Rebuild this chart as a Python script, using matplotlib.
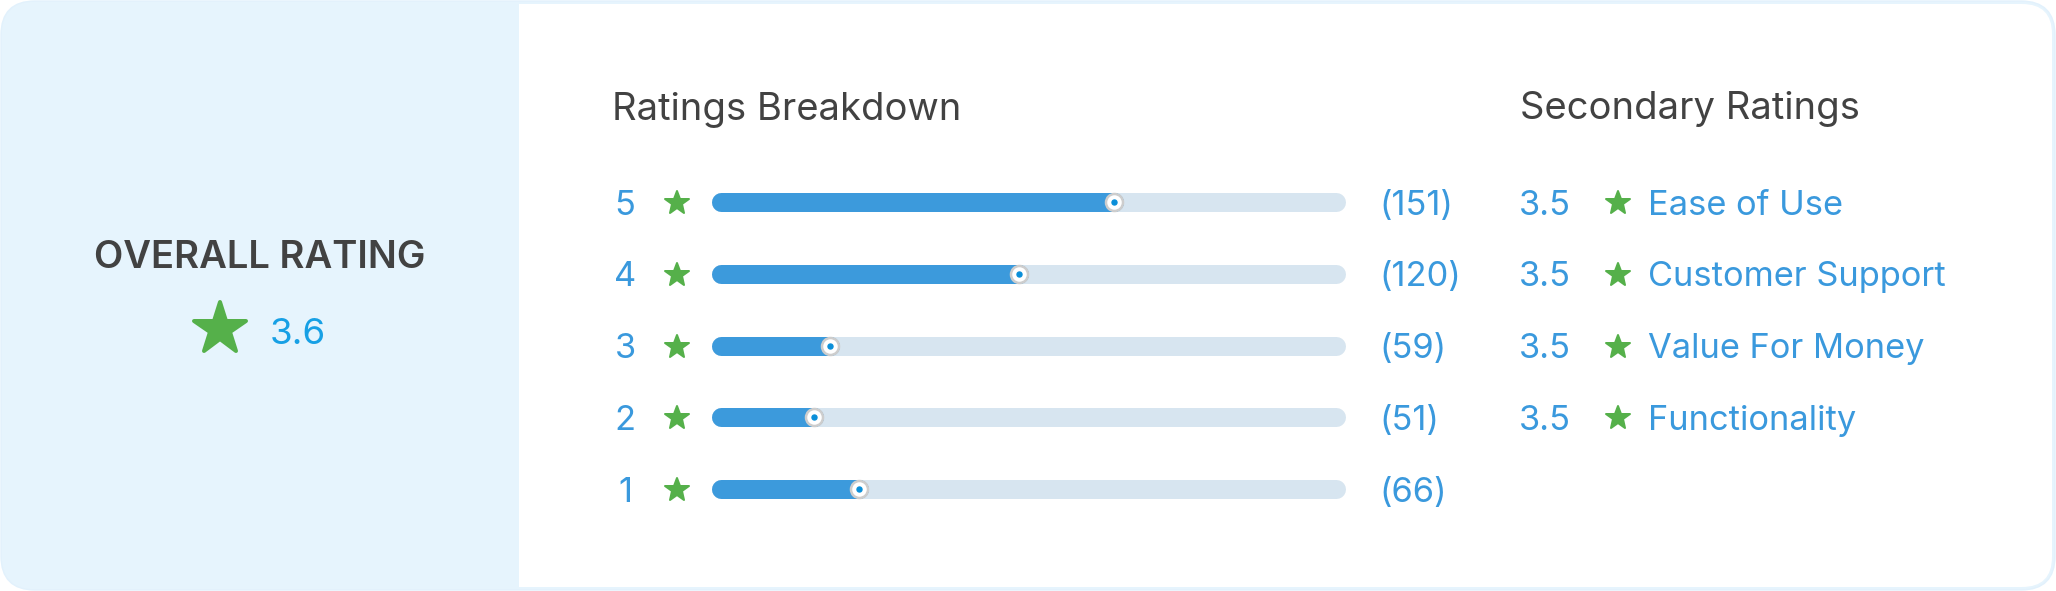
import matplotlib.pyplot as plt
from matplotlib.patches import FancyBboxPatch, Rectangle
from matplotlib.markers import MarkerStyle

# Data read from the card
overall_rating = 3.6
star_levels = [5, 4, 3, 2, 1]
review_counts = [151, 120, 59, 51, 66]
fill_share = [0.639, 0.485, 0.178, 0.152, 0.225]  # fill length of each bar
secondary_names = ["Ease of Use", "Customer Support", "Value For Money", "Functionality"]
secondary_scores = [3.5, 3.5, 3.5, 3.5]

W, H, DPI = 2056, 591, 100
FONT = ["Inter", "DejaVu Sans"]
DARK = "#424242"
BLUE = "#3a99dd"
BRIGHT = "#17a0e5"
GREEN = "#55b04a"
PANEL = "#e6f4fd"
TRACK = "#d7e5f0"
FILL = "#3c9adc"

ROW_TOP, ROW_STEP = 202, 71.8
PX = 72 / DPI  # points per pixel
CAP = 0.727     # Inter cap height / em
ROW_FS = 24.8


def px2pt(px):
    return px * PX


def half_cap(fs):
    return CAP * fs / PX / 2


fig = plt.figure(figsize=(W / DPI, H / DPI), dpi=DPI)
fig.patch.set_alpha(0)
ax = fig.add_axes([0, 0, 1, 1])
ax.set_xlim(0, W)
ax.set_ylim(H, 0)
ax.axis("off")

# card background
ax.add_patch(FancyBboxPatch((1, 1), W - 2, H - 2, boxstyle="round,pad=0,rounding_size=34",
                            fc=PANEL, ec="#e2f1fc", lw=1))
ax.add_patch(FancyBboxPatch((519, 4), W - 4 - 519, H - 8, boxstyle="round,pad=0,rounding_size=30",
                            fc="white", ec="none"))
ax.add_patch(Rectangle((519, 4), 60, H - 8, fc="white", ec="none"))

star = MarkerStyle("*", joinstyle="round")

# overall block
ax.text(260, 268, "OVERALL RATING", fontsize=27.5, fontweight="semibold", color=DARK,
        ha="center", va="baseline", family=FONT)
ax.plot([220], [328.5], marker=star, ms=px2pt(54), color=GREEN, mec=GREEN, mew=px2pt(4))
ax.text(270, 331 + half_cap(26.5), f"{overall_rating:.1f}", fontsize=26.5, color=BRIGHT,
        ha="left", va="baseline", family=FONT)

# headings
ax.text(612, 120, "Ratings Breakdown", fontsize=27.5, color=DARK, ha="left", va="baseline", family=FONT)
ax.text(1520, 119, "Secondary Ratings", fontsize=27.5, color=DARK, ha="left", va="baseline", family=FONT)

# breakdown rows: labels
for i, (lvl, cnt) in enumerate(zip(star_levels, review_counts)):
    y = ROW_TOP + i * ROW_STEP
    ax.text(625, y + half_cap(ROW_FS), str(lvl), fontsize=ROW_FS, color=BLUE,
            ha="center", va="baseline", family=FONT)
    ax.plot([677], [y + 1], marker=star, ms=px2pt(25), color=GREEN, mec=GREEN, mew=px2pt(2))
    ax.text(1379, y + half_cap(ROW_FS), f"({cnt})", fontsize=ROW_FS, color=BLUE,
            ha="left", va="baseline", family=FONT)

# breakdown bars on their own axes (x = share, y = star level)
bar_h = 19
bx0, bx1 = 711 + bar_h / 2, 1346 - bar_h / 2
span = 5 * ROW_STEP
top = ROW_TOP - ROW_STEP / 2
bax = fig.add_axes([bx0 / W, (H - top - span) / H, (bx1 - bx0) / W, span / H])
bax.set_xlim(0, 1)
bax.set_ylim(0.5, 5.5)
bax.axis("off")
bax.hlines(star_levels, 0, 1, colors=TRACK, lw=px2pt(bar_h), capstyle="round", clip_on=False)
bax.hlines(star_levels, 0, fill_share, colors=FILL, lw=px2pt(bar_h), capstyle="round", clip_on=False)
bax.scatter(fill_share, star_levels, s=px2pt(17) ** 2, c="white", edgecolors="#cdcdcd",
            linewidths=px2pt(2.5), zorder=3, clip_on=False)
bax.scatter(fill_share, star_levels, s=px2pt(5) ** 2, c="#0b8fd9", zorder=4, clip_on=False)

# secondary ratings
for i, (name, score) in enumerate(zip(secondary_names, secondary_scores)):
    y = ROW_TOP + i * ROW_STEP
    ax.text(1519, y + half_cap(ROW_FS), f"{score:.1f}", fontsize=ROW_FS, color=BLUE,
            ha="left", va="baseline", family=FONT)
    ax.plot([1618], [y + 1], marker=star, ms=px2pt(25), color=GREEN, mec=GREEN, mew=px2pt(2))
    ax.text(1648, y + half_cap(ROW_FS), name, fontsize=ROW_FS, color=BLUE,
            ha="left", va="baseline", family=FONT)

fig.savefig("out.png", dpi=DPI, transparent=True)
